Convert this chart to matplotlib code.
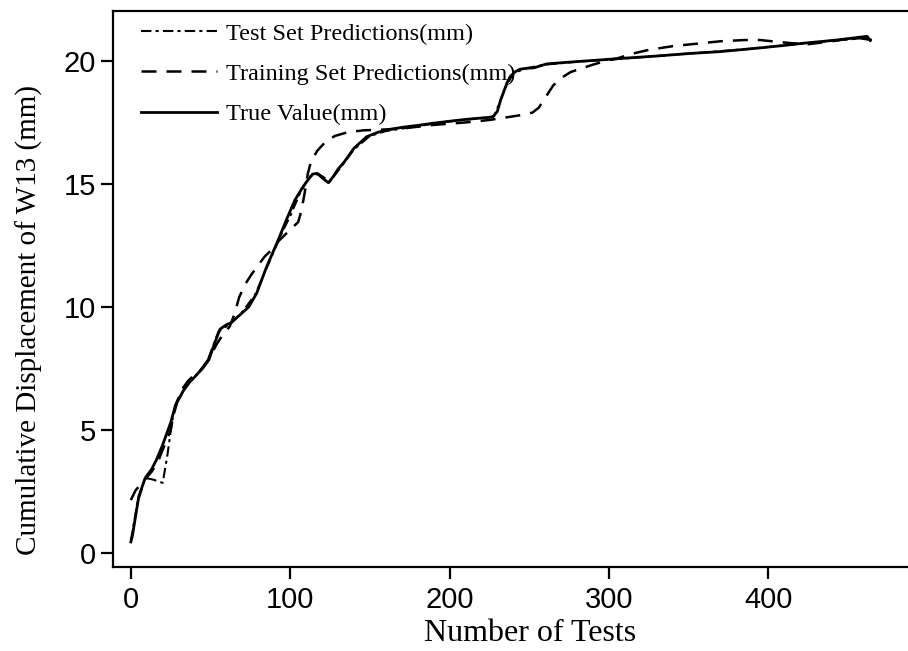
import matplotlib
matplotlib.use("Agg")
import matplotlib.pyplot as plt

# ---- data ----
true_x = [0, 1, 5, 9, 13, 16, 20, 25, 28, 33, 37, 40, 45, 49, 53, 56, 60, 63, 68, 74,
          79, 85, 92, 98, 103, 108, 111, 114, 117, 120, 124, 127, 130, 134, 140, 148,
          155, 161, 170, 180, 190, 200, 211, 220, 227, 230, 232, 234, 236, 238, 241,
          244, 248, 253, 261, 275, 290, 307, 330, 350, 370, 390, 410, 422, 435, 443,
          452, 458, 462, 464]
true_y = [0.45, 0.7, 2.3, 3.05, 3.4, 3.78, 4.4, 5.3, 6.0, 6.6, 6.95, 7.15, 7.5, 7.85,
          8.6, 9.1, 9.28, 9.36, 9.65, 10.0, 10.56, 11.6, 12.65, 13.6, 14.35, 14.88,
          15.15, 15.4, 15.43, 15.25, 15.05, 15.3, 15.6, 15.9, 16.45, 16.92, 17.1, 17.2,
          17.3, 17.38, 17.47, 17.55, 17.63, 17.68, 17.72, 17.95, 18.4, 18.75, 19.1,
          19.36, 19.55, 19.66, 19.7, 19.72, 19.88, 19.95, 20.02, 20.1, 20.2, 20.3,
          20.38, 20.5, 20.63, 20.72, 20.8, 20.85, 20.92, 20.97, 21.0, 20.83]

train_x = [0, 3, 9, 13, 17, 20, 22, 25, 28, 32, 36, 40, 44, 49, 54, 58, 62, 65, 68, 72,
           76, 80, 84, 88, 93, 97, 101, 105, 107, 109, 111, 113, 117, 122, 128, 136,
           146, 155, 170, 190, 210, 225, 235, 245, 252, 256, 260, 265, 270, 276, 283,
           290, 298, 305, 315, 325, 340, 355, 370, 385, 395, 405, 415, 425, 440, 455,
           465]
train_y = [2.15, 2.55, 3.0, 3.3, 3.7, 4.2, 4.5, 5.0, 6.0, 6.65, 7.0, 7.25, 7.45, 7.9,
           8.5, 8.9, 9.2, 9.7, 10.4, 10.95, 11.35, 11.7, 12.05, 12.3, 12.7, 12.95, 13.2,
           13.45, 13.9, 14.6, 15.4, 15.9, 16.35, 16.7, 16.95, 17.1, 17.18, 17.2, 17.25,
           17.4, 17.5, 17.6, 17.7, 17.8, 17.9, 18.1, 18.5, 19.0, 19.3, 19.55, 19.7,
           19.85, 20.0, 20.1, 20.3, 20.45, 20.6, 20.7, 20.8, 20.85, 20.85, 20.78, 20.72,
           20.68, 20.8, 20.95, 20.85]

test_x = [0, 4, 9, 13, 17, 20, 23, 26, 30, 36, 42, 48, 55, 62, 70, 78, 86, 94, 100, 106,
          112, 118, 125, 132, 140, 150, 160, 175, 190, 205, 220, 228, 235, 240, 248,
          260, 280, 300, 330, 360, 390, 420, 440, 455, 462, 465]
test_y = [0.5, 2.0, 3.05, 3.0, 2.92, 2.85, 4.0, 5.4, 6.3, 6.9, 7.3, 7.8, 9.0, 9.3, 9.8,
          10.5, 11.7, 12.9, 13.7, 14.6, 15.3, 15.4, 15.1, 15.7, 16.4, 16.95, 17.15,
          17.3, 17.45, 17.58, 17.68, 17.75, 18.9, 19.5, 19.7, 19.85, 19.97, 20.05,
          20.2, 20.35, 20.5, 20.7, 20.82, 20.9, 20.98, 20.85]

x_ticks = [0, 100, 200, 300, 400]
y_ticks = [0, 5, 10, 15, 20]
labels = ["Test Set Predictions(mm)", "Training Set Predictions(mm)", "True Value(mm)"]
xlabel = "Number of Tests"
ylabel = "Cumulative Displacement of W13 (mm)"

serif = ["Liberation Serif", "DejaVu Serif"]
sans = ["Liberation Sans", "DejaVu Sans"]

fig = plt.figure(figsize=(9.08, 6.51), dpi=100)
ax = fig.add_axes([113.3 / 908, 84.3 / 651, 1 - 113.3 / 908, (640 - 84.3) / 651])

ax.plot(test_x, test_y, color="black", lw=1.5, linestyle=(0, (5, 2, 1.5, 2)),
        label=labels[0])
ax.plot(train_x, train_y, color="black", lw=1.8, linestyle=(0, (6, 4)),
        label=labels[1])
ax.plot(true_x, true_y, color="black", lw=2.0, linestyle="-", label=labels[2])

ax.set_xlim(-11.0, 487.7)
ax.set_ylim(-0.557, 22.03)
ax.set_xticks(x_ticks)
ax.set_yticks(y_ticks)
ax.spines["right"].set_visible(False)
for s in ["left", "bottom", "top"]:
    ax.spines[s].set_linewidth(1.6)
ax.tick_params(axis="both", direction="out", length=8.6, width=1.6, labelsize=21)
ax.tick_params(axis="x", pad=5)
ax.tick_params(axis="y", pad=4)
for lab in ax.get_xticklabels() + ax.get_yticklabels():
    lab.set_family(sans)

ax.set_xlabel(xlabel, fontsize=23, family=serif)
ax.set_ylabel(ylabel, fontsize=21, family=serif)
ax.xaxis.set_label_coords(0.525, -0.095)
ax.yaxis.set_label_coords(-0.089, 0.444)

leg = ax.legend(loc="upper left", bbox_to_anchor=(0.02, 1.001), frameon=False,
                prop={"family": serif, "size": 17.5}, handlelength=3.1,
                handletextpad=0.4, labelspacing=0.75, borderpad=0.0)

fig.savefig("out.png", dpi=100)
